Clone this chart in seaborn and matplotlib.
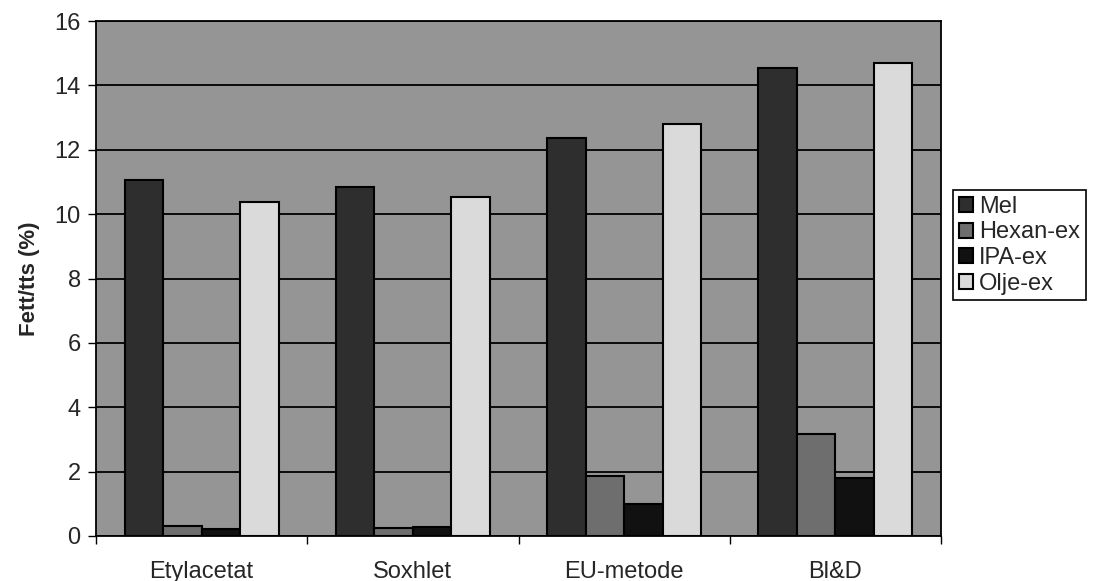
import pandas as pd
import numpy as np
import seaborn as sns
import matplotlib.pyplot as plt
from matplotlib.ticker import FixedLocator

methods = ['Etylacetat', 'Soxhlet', 'EU-metode', 'Bl&D']
series = ['Mel', 'Hexan-ex', 'IPA-ex', 'Olje-ex']
mel = [11.07, 10.85, 12.35, 14.55]
hexan = [0.31, 0.25, 1.85, 3.17]
ipa = [0.22, 0.27, 0.98, 1.8]
olje = [10.38, 10.53, 12.8, 14.7]
colors = ['#2e2e2e', '#6e6e6e', '#111111', '#dadada']

df = pd.DataFrame({
    'metode': np.repeat(methods, len(series)),
    'serie': series * len(methods),
    'verdi': np.column_stack([mel, hexan, ipa, olje]).ravel(),
})

sns.set_theme(style='white')
plt.rcParams['font.family'] = ['Liberation Sans', 'DejaVu Sans']

fig = plt.figure(figsize=(11.07, 5.81), dpi=100)
ax = fig.add_axes([96 / 1107, 1 - 536 / 581, 845 / 1107, 515 / 581])

sns.barplot(data=df, x='metode', y='verdi', hue='serie', order=methods, hue_order=series,
            palette=colors, width=0.73, gap=0, edgecolor='black', linewidth=1.5,
            saturation=1, errorbar=None, ax=ax, zorder=3)

ax.set_facecolor('#959595')
ax.set_ylim(0, 16)
ax.set_xlim(-0.5, 3.5)
ax.set_yticks(range(0, 17, 2))
ax.yaxis.grid(True, color='black', linewidth=1.3, zorder=1)
ax.set_axisbelow(True)
for s in ax.spines.values():
    s.set_color('black')
    s.set_linewidth(1.3)

ax.tick_params(axis='y', which='major', left=True, length=6, width=1, color='black', labelsize=17, pad=5)
ax.tick_params(axis='x', which='major', bottom=False, labelsize=17, pad=12)
ax.xaxis.set_minor_locator(FixedLocator([-0.5, 0.5, 1.5, 2.5, 3.5]))
ax.tick_params(axis='x', which='minor', bottom=True, length=6, width=1, color='black')

ax.set_xlabel('')
ax.set_ylabel('Fett/tts (%)', fontsize=16, fontweight='bold', labelpad=10)

leg = ax.legend(loc='upper left', bbox_to_anchor=(953 / 1107, 1 - 190 / 581),
                bbox_transform=fig.transFigure, fontsize=17, frameon=True, fancybox=False,
                borderaxespad=0, handlelength=0.6, handleheight=0.6, handletextpad=0.25,
                labelspacing=0.15, borderpad=0.25)
leg.get_frame().set_edgecolor('black')
leg.get_frame().set_linewidth(1.2)
leg.get_frame().set_facecolor('white')
leg.get_frame().set_alpha(1)

fig.savefig('out.png', dpi=100)
